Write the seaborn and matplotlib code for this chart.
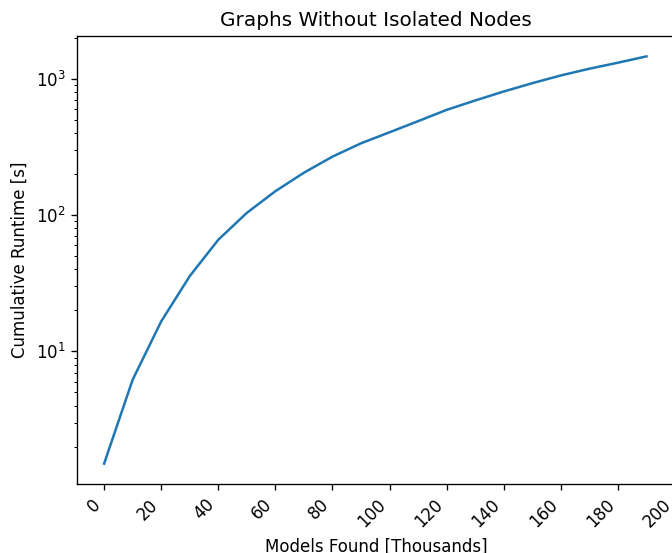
import matplotlib
matplotlib.use("Agg")
import matplotlib.pyplot as plt
import seaborn as sns
import pandas as pd

models_found_thousands = [0, 10, 20, 30, 40, 50, 60, 70, 80, 90, 100,
                          110, 120, 130, 140, 150, 160, 170, 180, 190]
cumulative_runtime_s = [1.50, 6.2, 16.6, 35.7, 66, 104, 150, 205, 269, 337, 406,
                        490, 593, 695, 809, 931, 1061, 1189, 1316, 1465]
x_ticks = list(range(0, 201, 20))

df = pd.DataFrame({"x": models_found_thousands, "y": cumulative_runtime_s})

DPI = 120
fig = plt.figure(figsize=(672 / DPI, 553 / DPI), dpi=DPI)
ax = fig.add_axes([77 / 672, 1 - 484 / 553, (675 - 77) / 672, (484 - 36) / 553])
sns.lineplot(data=df, x="x", y="y", ax=ax, color="#1f77b4", linewidth=1.5)
ax.set_yscale("log")
ax.set_xticks(x_ticks)
ax.set_xticklabels([str(t) for t in x_ticks], rotation=45, ha="right")
ax.set_xlim(-9.5, 200)
ax.set_title("Graphs Without Isolated Nodes", fontsize=12)
ax.set_xlabel("Models Found [Thousands]")
ax.set_ylabel("Cumulative Runtime [s]")
fig.savefig("out.png", dpi=DPI)
